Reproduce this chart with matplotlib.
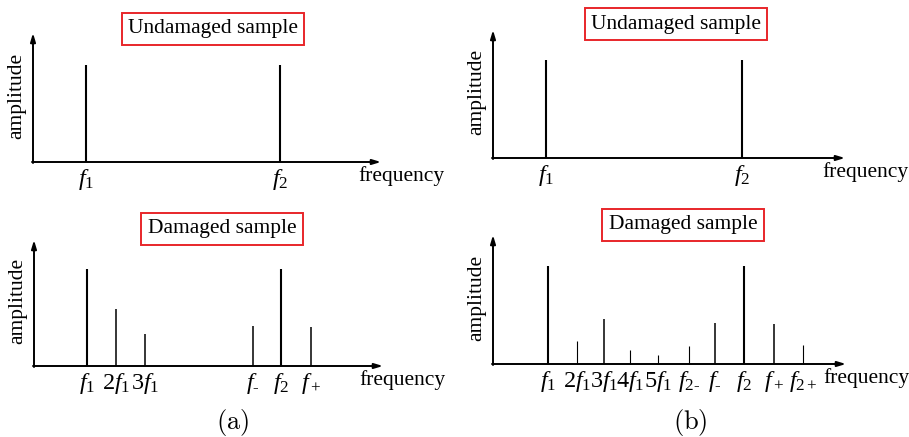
import matplotlib
matplotlib.use('Agg')
import matplotlib.pyplot as plt

plt.rcParams['font.family'] = 'Liberation Serif'
plt.rcParams['mathtext.fontset'] = 'custom'
plt.rcParams['mathtext.rm'] = 'Liberation Serif'
plt.rcParams['mathtext.it'] = 'Liberation Serif:italic'

# spectra, frequency and amplitude in schematic units
a_top_freq = [53, 247]
a_top_amp = [97, 97]
a_top_labels = ['$f_1$', '$f_2$']

a_bot_freq = [53, 82, 111, 219, 247, 277]
a_bot_amp = [97, 57, 32, 40, 97, 39]
a_bot_labels = ['$f_1$', '$\\mathit{2}f_1$', '$\\mathit{3}f_1$',
                '$f_{\\text{-}}$', '$f_2$', '$f_+$']

b_top_freq = [53, 249]
b_top_amp = [98, 98]
b_top_labels = ['$f_1$', '$f_2$']

b_bot_freq = [55, 84, 111, 137, 165, 196, 222, 251, 281, 310]
b_bot_amp = [98, 23, 45, 14, 9, 18, 41, 98, 40, 19]
b_bot_labels = ['$f_1$', '$\\mathit{2}f_1$', '$\\mathit{3}f_1$', '$\\mathit{4}f_1$',
                '$\\mathit{5}f_1$', '$f_{2\\text{-}}$', '$f_{\\text{-}}$', '$f_2$',
                '$f_+$', '$f_{2+}$']

W, H = 909, 437
fig = plt.figure(figsize=(W / 100, H / 100), dpi=100)


def panel(x0, y0, xend, ytop, freq, amp, labels, title, title_xy, freq_x):
    w = xend - x0
    h = y0 - ytop
    ax = fig.add_axes([x0 / W, 1 - y0 / H, w / W, h / H])
    ax.set_xlim(0, w)
    ax.set_ylim(0, h)
    ax.axis('off')
    # axes with arrow heads
    ax.annotate('', xy=(w, 0), xytext=(-1, 0),
                arrowprops=dict(arrowstyle='-|>,head_length=0.5,head_width=0.15',
                                color='black', lw=1.4, shrinkA=0, shrinkB=0))
    ax.annotate('', xy=(0, h), xytext=(0, -1),
                arrowprops=dict(arrowstyle='-|>,head_length=0.5,head_width=0.15',
                                color='black', lw=1.4, shrinkA=0, shrinkB=0))
    for f, a, lab in zip(freq, amp, labels):
        lw = 1.5 if a > 90 else (1.1 if a > 30 else 0.8)
        ax.vlines(f, 0, a, color='black', lw=lw, clip_on=False)
        ax.text(f, -17, lab, ha='center', va='center', fontsize=17.5)
    ax.text(freq_x - x0, -14, 'frequency', ha='left', va='center', fontsize=15.5)
    ax.text(-16, h / 2 + 2, 'amplitude', rotation=90, ha='center', va='center',
            fontsize=15.5)
    fig.text(title_xy[0] / W, 1 - title_xy[1] / H, title, ha='center', va='center',
             fontsize=15.5,
             bbox=dict(boxstyle='square,pad=0.3', fc='white', ec='#e8262a', lw=1.4))


panel(33, 162, 381, 33, a_top_freq, a_top_amp, a_top_labels,
      'Undamaged sample', (213, 29), 358)
panel(34, 366, 383, 240, a_bot_freq, a_bot_amp, a_bot_labels,
      'Damaged sample', (222, 229), 359)
panel(493, 158, 845, 30, b_top_freq, b_top_amp, b_top_labels,
      'Undamaged sample', (676, 24), 822)
panel(493, 364, 846, 235, b_bot_freq, b_bot_amp, b_bot_labels,
      'Damaged sample', (683, 225), 823)

fig.text(233 / W, 1 - 422 / H, '$\\mathrm{(a)}$', ha='center', va='center',
         fontsize=19, math_fontfamily='cm')
fig.text(690 / W, 1 - 422 / H, '$\\mathrm{(b)}$', ha='center', va='center',
         fontsize=19, math_fontfamily='cm')

fig.savefig('out.png', dpi=100, facecolor='white')
